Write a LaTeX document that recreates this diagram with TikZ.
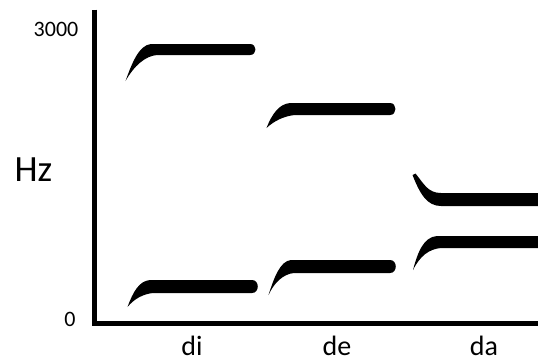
\documentclass[tikz,border=0pt]{standalone}
\usepackage{fontspec}
\setmainfont{Carlito}
\begin{document}
\begin{tikzpicture}[x=1pt,y=-1pt,
  axis/.style={line width=5.5pt, line join=miter},
  formant/.style={fill=black},
  ticklabel/.style={font=\fontsize{22}{24}\selectfont, inner sep=0pt, anchor=base},
  syll/.style={font=\fontsize{28}{30}\selectfont, inner sep=0pt, anchor=base},
  unitlabel/.style={font=\fontsize{37}{40}\selectfont, inner sep=0pt, anchor=base}]
\useasboundingbox (0,0) rectangle (538,362);
% axes
\draw[axis] (94.5,9.5) -- (94.5,323.5) -- (538,323.5);
% labels
\node[ticklabel] (t3000) at (56,36) {3000};
\node[ticklabel] (t0) at (70,326) {0};
\node[unitlabel] (hz) at (33.5,181) {Hz};
\node[syll] (di) at (192,355) {di};
\node[syll] (de) at (337,355) {de};
\node[syll] (da) at (484,355) {da};
% di F2
\fill[formant] (125.5,81) .. controls (132,63) and (139,45) .. (151,44) -- (250,44)
  .. controls (257.3,44) and (257.3,55) .. (250,55) -- (157,55)
  .. controls (145,56) and (134,66) .. (125.5,81) -- cycle;
% di F1
\fill[formant] (127.5,307) .. controls (133,292) and (139,281) .. (150,280) -- (252,280)
  .. controls (259.7,280) and (259.7,293) .. (252,293) -- (153,293)
  .. controls (143,294) and (134,299) .. (127.5,307) -- cycle;
% de F2
\fill[formant] (266.5,128) .. controls (272,114) and (279,104) .. (290,103) -- (390,103)
  .. controls (397.3,103) and (397.3,115) .. (390,115) -- (295,115)
  .. controls (284,116) and (274,121) .. (266.5,128) -- cycle;
% de F1
\fill[formant] (268.5,295) .. controls (274,278) and (280,261) .. (291,260) -- (390,260)
  .. controls (397.7,260) and (397.7,273) .. (390,273) -- (294,273)
  .. controls (283,274) and (274,283) .. (268.5,295) -- cycle;
% da F2
\fill[formant] (412.5,175) -- (415.5,173.5) .. controls (424,184) and (428,193) .. (441,193) -- (538,193)
  -- (538,206) -- (441,206) .. controls (427,206) and (420,194) .. (412.5,175) -- cycle;
% da F1
\fill[formant] (413,270) .. controls (418,251) and (424,237) .. (437,236) -- (538,236)
  -- (538,248) -- (441,248) .. controls (429,249) and (420,256) .. (413,270) -- cycle;
\end{tikzpicture}
\end{document}
